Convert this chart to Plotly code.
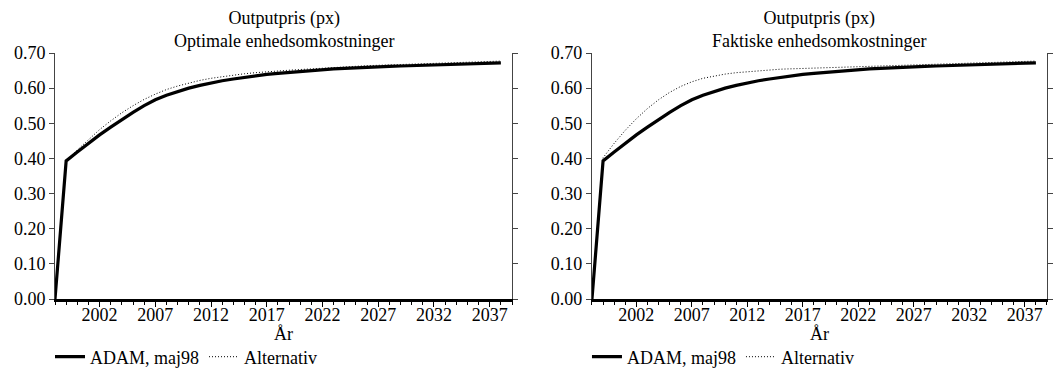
import plotly.graph_objects as go

# Years on the horizontal axis
years = list(range(1998, 2039))

# Output price, baseline model (same in both panels)
adam_maj98 = [
    0.000, 0.393, 0.418, 0.443, 0.467, 0.489, 0.511, 0.531, 0.550, 0.567,
    0.580, 0.591, 0.600, 0.608, 0.615, 0.621, 0.626, 0.631, 0.635, 0.639,
    0.642, 0.645, 0.648, 0.650, 0.653, 0.655, 0.656, 0.658, 0.659, 0.661,
    0.662, 0.663, 0.664, 0.665, 0.666, 0.667, 0.668, 0.669, 0.670, 0.671,
    0.672,
]

# Alternative with optimal unit costs
alt_optimale = [
    0.000, 0.393, 0.424, 0.454, 0.482, 0.507, 0.530, 0.550, 0.568, 0.583,
    0.596, 0.606, 0.615, 0.622, 0.628, 0.633, 0.637, 0.641, 0.644, 0.647,
    0.649, 0.651, 0.653, 0.655, 0.657, 0.659, 0.661, 0.662, 0.664, 0.665,
    0.666, 0.668, 0.669, 0.670, 0.671, 0.672, 0.673, 0.674, 0.675, 0.676,
    0.677,
]

# Alternative with actual unit costs
alt_faktiske = [
    0.000, 0.402, 0.443, 0.480, 0.513, 0.542, 0.567, 0.588, 0.605, 0.618,
    0.628, 0.635, 0.640, 0.644, 0.647, 0.650, 0.652, 0.654, 0.655, 0.656,
    0.658, 0.659, 0.660, 0.661, 0.662, 0.663, 0.664, 0.665, 0.666, 0.667,
    0.668, 0.669, 0.670, 0.671, 0.672, 0.673, 0.674, 0.675, 0.675, 0.676,
    0.677,
]

panel_titles = ["Outputpris (px)<br>Optimale enhedsomkostninger",
                "Outputpris (px)<br>Faktiske enhedsomkostninger"]
x_title = "År"
x_tickvals = [2002, 2007, 2012, 2017, 2022, 2027, 2032, 2037]
y_tickvals = [0.0, 0.1, 0.2, 0.3, 0.4, 0.5, 0.6, 0.7]
y_ticktext = [f"{v:.2f}" for v in y_tickvals]

FONT = "Liberation Serif, Times New Roman, serif"
FS = 18

fig = go.Figure()

panels = [("x", "y", "legend", alt_optimale), ("x2", "y2", "legend2", alt_faktiske)]
for xa, ya, lg, alt in panels:
    fig.add_trace(go.Scatter(
        x=years, y=adam_maj98, mode="lines", name="ADAM, maj98",
        line=dict(color="black", width=3.2), xaxis=xa, yaxis=ya, legend=lg,
    ))
    fig.add_trace(go.Scatter(
        x=years, y=alt, mode="lines", name="Alternativ",
        line=dict(color="black", width=1, dash="1px,2px"), xaxis=xa, yaxis=ya, legend=lg,
    ))

xaxis_common = dict(
    range=[1998, 2039], tickvals=x_tickvals, ticks="outside", ticklen=5,
    tickcolor="black", showline=True, linecolor="black", linewidth=2.5,
    showgrid=False, zeroline=False, ticklabelstandoff=-7,
    minor=dict(dtick=1, tick0=1998, ticks="outside", ticklen=3, tickcolor="black", showgrid=False),
    tickfont=dict(family=FONT, size=FS, color="black"),
)
yaxis_common = dict(
    range=[0, 0.7], tickvals=y_tickvals, ticktext=y_ticktext, ticks="outside",
    ticklen=5, tickcolor="#444", showline=True, linecolor="#444", linewidth=1,
    mirror="ticks", showgrid=False, zeroline=False,
    tickfont=dict(family=FONT, size=FS, color="black"),
)

legend_common = dict(
    orientation="h", xanchor="left", y=12 / 369, yanchor="middle",
    xref="paper", yref="container", font=dict(family=FONT, size=FS, color="black"),
    itemwidth=30, tracegroupgap=0, bgcolor="rgba(0,0,0,0)",
)

fig.update_layout(
    width=1054, height=369,
    margin=dict(l=55, r=7, t=53, b=70, autoexpand=False),
    paper_bgcolor="white", plot_bgcolor="white",
    font=dict(family=FONT, size=FS, color="black"),
    xaxis=dict(domain=[0, 0.4607], anchor="y", **xaxis_common),
    yaxis=dict(domain=[0, 1], anchor="x", **yaxis_common),
    xaxis2=dict(domain=[0.5413, 1], anchor="y2", **xaxis_common),
    yaxis2=dict(domain=[0, 1], anchor="x2", **yaxis_common),
    legend=dict(x=-5 / 992, **legend_common),
    legend2=dict(x=0.5413 - 5 / 992, **legend_common),
    showlegend=True,
)

for i, title in enumerate(panel_titles):
    xa = fig.layout.xaxis if i == 0 else fig.layout.xaxis2
    cx = (xa.domain[0] + xa.domain[1]) / 2
    fig.add_annotation(text=title, x=cx, y=1.0, xref="paper", yref="paper",
                       xanchor="center", yanchor="bottom", yshift=0, showarrow=False,
                       font=dict(family=FONT, size=FS, color="black"))
    fig.add_annotation(text=x_title, x=cx, y=0, xref="paper", yref="paper",
                       xanchor="center", yanchor="middle", yshift=-35, showarrow=False,
                       font=dict(family=FONT, size=FS, color="black"))

fig.write_html("out.html")
